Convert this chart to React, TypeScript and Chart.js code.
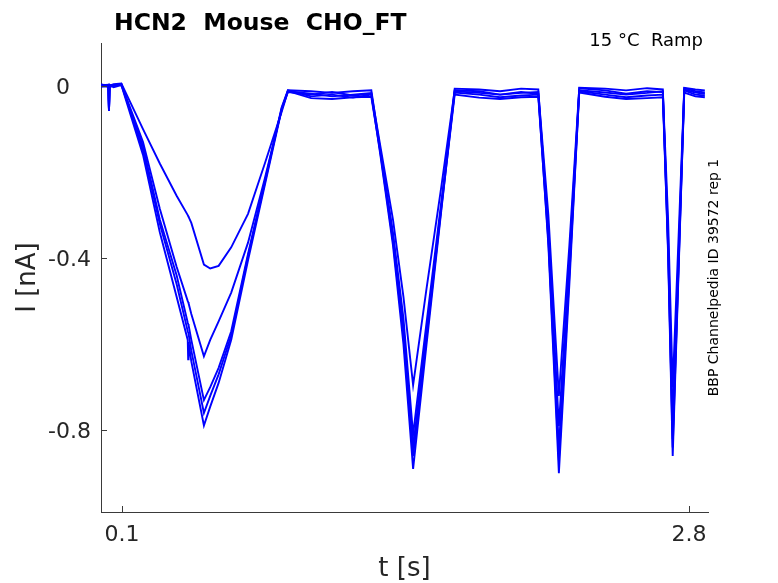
import React, { useEffect, useRef } from "react";
import { Chart, registerables } from "chart.js";

Chart.register(...registerables);

// ---- data ----
const titleText = "HCN2  Mouse  CHO_FT";
const conditionText = "15 °C  Ramp";
const sideText = "BBP Channelpedia ID 39572 rep 1";
const xAxisLabel = "t [s]";
const yAxisLabel = "I [nA]";

const xTicks = [0.1, 2.8];
const xTickLabels = ["0.1", "2.8"];
const yTicks = [0, -0.4, -0.8];
const yTickLabels = ["0", "-0.4", "-0.8"];

// time knots (s)
const tKnots = [
  0, 0.035, 0.038, 0.041, 0.06, 0.097,
  0.2, 0.28, 0.36, 0.413, 0.415, 0.417, 0.43, 0.49, 0.52, 0.56, 0.62, 0.7, 0.78, 0.86, 0.89,
  1.0, 1.1, 1.2, 1.287,
  1.33, 1.39, 1.44, 1.486, 1.55, 1.62, 1.684,
  1.8, 1.9, 2.0, 2.082,
  2.13, 2.18, 2.23, 2.277,
  2.4, 2.5, 2.6, 2.675,
  2.7, 2.722, 2.75, 2.777,
  2.83, 2.875,
];

// current sweeps (nA)
const sweep1 = [
  0.003, 0.002, -0.058, 0.001, 0.004, 0.006,
  -0.1, -0.18, -0.255, -0.3, -0.302, -0.304, -0.318, -0.415, -0.424, -0.418, -0.375, -0.297, -0.18, -0.06, -0.012,
  -0.018, -0.024, -0.02, -0.016,
  -0.14, -0.31, -0.49, -0.695, -0.47, -0.235, -0.01,
  -0.012, -0.02, -0.016, -0.014,
  -0.3, -0.72, -0.37, -0.005,
  -0.01, -0.018, -0.012, -0.014,
  -0.31, -0.7, -0.35, -0.005,
  -0.012, -0.015,
];
const sweep2 = [
  0.0, -0.002, -0.058, 0.002, 0.001, 0.004,
  -0.13, -0.285, -0.42, -0.5, -0.502, -0.505, -0.53, -0.628, -0.59, -0.547, -0.48, -0.364, -0.215, -0.055, -0.01,
  -0.024, -0.02, -0.027, -0.02,
  -0.15, -0.34, -0.54, -0.81, -0.55, -0.27, -0.015,
  -0.02, -0.026, -0.022, -0.02,
  -0.33, -0.79, -0.4, -0.012,
  -0.02, -0.026, -0.022, -0.02,
  -0.35, -0.78, -0.39, -0.01,
  -0.02, -0.022,
];
const sweep3 = [
  0.004, 0.0, -0.058, 0.0, 0.002, 0.003,
  -0.14, -0.31, -0.44, -0.55, -0.553, -0.556, -0.59, -0.73, -0.7, -0.655, -0.57, -0.39, -0.222, -0.05, -0.01,
  -0.012, -0.016, -0.012, -0.01,
  -0.15, -0.35, -0.56, -0.84, -0.57, -0.28, -0.006,
  -0.008, -0.012, -0.006, -0.008,
  -0.35, -0.84, -0.43, -0.004,
  -0.006, -0.01, -0.005, -0.008,
  -0.37, -0.82, -0.41, -0.004,
  -0.008, -0.01,
];
const sweep4 = [
  0.002, 0.003, -0.058, -0.002, 0.0, 0.005,
  -0.15, -0.32, -0.46, -0.57, -0.573, -0.576, -0.615, -0.76, -0.72, -0.67, -0.58, -0.395, -0.225, -0.052, -0.012,
  -0.028, -0.03, -0.026, -0.025,
  -0.155, -0.36, -0.58, -0.86, -0.585, -0.285, -0.02,
  -0.027, -0.03, -0.026, -0.025,
  -0.36, -0.87, -0.44, -0.015,
  -0.025, -0.03, -0.028, -0.026,
  -0.38, -0.84, -0.42, -0.015,
  -0.024, -0.026,
];
const sweep5 = [
  -0.002, 0.001, -0.058, 0.003, -0.003, 0.002,
  -0.16, -0.34, -0.49, -0.59, -0.635, -0.595, -0.64, -0.789, -0.745, -0.69, -0.59, -0.405, -0.23, -0.055, -0.014,
  -0.02, -0.014, -0.022, -0.018,
  -0.16, -0.37, -0.6, -0.89, -0.6, -0.29, -0.012,
  -0.016, -0.02, -0.014, -0.018,
  -0.37, -0.9, -0.46, -0.01,
  -0.015, -0.02, -0.016, -0.012,
  -0.39, -0.86, -0.43, -0.008,
  -0.015, -0.018,
];
const sweeps = [sweep1, sweep2, sweep3, sweep4, sweep5];

const FONT = "'DejaVu Sans', sans-serif";
const AXIS_COLOR = "#3a3a3a";
const TEXT_COLOR = "#262626";

const decorPlugin = {
  id: "decor",
  afterDraw(chart: any) {
    const ctx = chart.ctx as CanvasRenderingContext2D;
    const xs = chart.scales.x;
    const ys = chart.scales.y;
    const a = chart.chartArea;
    ctx.save();
    // tick marks (inward)
    ctx.strokeStyle = AXIS_COLOR;
    ctx.lineWidth = 1;
    yTicks.forEach((v) => {
      const py = Math.round(ys.getPixelForValue(v)) + 0.5;
      ctx.beginPath();
      ctx.moveTo(a.left, py);
      ctx.lineTo(a.left + 6, py);
      ctx.stroke();
    });
    xTicks.forEach((v) => {
      const px = Math.round(xs.getPixelForValue(v)) + 0.5;
      ctx.beginPath();
      ctx.moveTo(px, a.bottom);
      ctx.lineTo(px, a.bottom - 6);
      ctx.stroke();
    });
    // y tick labels (numeric part in a fixed column, minus hanging)
    ctx.fillStyle = TEXT_COLOR;
    ctx.font = `22px ${FONT}`;
    ctx.textBaseline = "alphabetic";
    const col = a.left - 45;
    yTicks.forEach((v, i) => {
      const py = ys.getPixelForValue(v) + 7.5;
      const lab = yTickLabels[i];
      if (lab.startsWith("-")) {
        ctx.textAlign = "right";
        ctx.fillText("-", col, py);
        ctx.textAlign = "left";
        ctx.fillText(lab.slice(1), col, py);
      } else {
        ctx.textAlign = "left";
        ctx.fillText(lab, col, py);
      }
    });
    // x tick labels
    ctx.textAlign = "center";
    xTicks.forEach((v, i) => {
      const px = xs.getPixelForValue(v);
      ctx.fillText(xTickLabels[i], px, a.bottom + 29);
    });
    // axis labels
    ctx.font = `26px ${FONT}`;
    ctx.textAlign = "center";
    ctx.fillText(xAxisLabel, (a.left + a.right) / 2, 575.5);
    ctx.save();
    ctx.translate(35, (a.top + a.bottom) / 2);
    ctx.rotate(-Math.PI / 2);
    ctx.fillText(yAxisLabel, 0, 0);
    ctx.restore();
    // title
    ctx.fillStyle = "#000";
    ctx.font = `bold 23.5px ${FONT}`;
    ctx.textAlign = "left";
    ctx.fillText(titleText, 114, 29.5);
    // condition
    ctx.font = `18px ${FONT}`;
    ctx.textAlign = "right";
    ctx.fillText(conditionText, 703, 46);
    // side text
    ctx.font = `14px ${FONT}`;
    ctx.textAlign = "center";
    ctx.save();
    ctx.translate(718, (a.top + a.bottom) / 2);
    ctx.rotate(-Math.PI / 2);
    ctx.fillText(sideText, 0, 0);
    ctx.restore();
    ctx.restore();
  },
};

export default function App() {
  const ref = useRef<HTMLCanvasElement | null>(null);
  useEffect(() => {
    if (!ref.current) return;
    const datasets = sweeps.map((s) => ({
      data: tKnots.map((t, i) => ({ x: t, y: s[i] })),
      borderColor: "#0000ff",
      backgroundColor: "#0000ff",
      borderWidth: 1.9,
      pointRadius: 0,
      fill: false,
      tension: 0,
    }));
    const chart = new Chart(ref.current, {
      type: "line",
      data: { datasets },
      options: {
        animation: false,
        responsive: false,
        devicePixelRatio: 1,
        layout: { padding: { left: 0, right: 70, top: 43, bottom: 0 } },
        plugins: { legend: { display: false }, title: { display: false }, tooltip: { enabled: false } },
        scales: {
          x: {
            type: "linear",
            min: 0,
            max: 2.89,
            grid: { display: false, drawTicks: false },
            border: { display: true, color: AXIS_COLOR, width: 1 },
            ticks: { display: false },
            afterFit: (s: any) => { s.height = 71; },
          },
          y: {
            type: "linear",
            min: -0.99,
            max: 0.1,
            grid: { display: false, drawTicks: false },
            border: { display: true, color: AXIS_COLOR, width: 1 },
            ticks: { display: false },
            afterFit: (s: any) => { s.width = 101; },
          },
        },
      } as any,
      plugins: [decorPlugin],
    });
    return () => chart.destroy();
  }, []);
  return (
    <div style={{ position: "fixed", left: 0, top: 0, width: 778, height: 583, background: "#fff" }}>
      <canvas ref={ref} width={778} height={583} style={{ width: 778, height: 583, display: "block" }} />
    </div>
  );
}
